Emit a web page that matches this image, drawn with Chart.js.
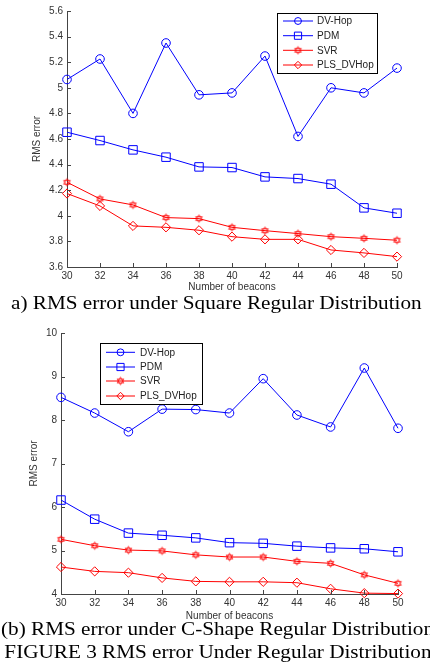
<!DOCTYPE html>
<html>
<head>
<meta charset="utf-8">
<script src="https://cdn.jsdelivr.net/npm/chart.js@4.4.0/dist/chart.umd.min.js"></script>
<style>
  body { margin: 0; background: #fff; width: 430px; height: 671px; overflow: hidden; position: relative; }
  canvas { position: absolute; left: 0; }
  .cap { position: absolute; font-family: "Liberation Serif", serif; font-size: 19px; line-height: 23px; white-space: nowrap; color: #000; transform: scaleX(1.115); transform-origin: 0 0; }
</style>
</head>
<body>
<canvas id="chartA" width="430" height="295" style="top:0"></canvas>
<div class="cap" style="top:291px;left:11px">a) RMS error under Square Regular Distribution</div>
<canvas id="chartB" width="430" height="315" style="top:310px"></canvas>
<div class="cap" style="top:617px;left:1px">(b) RMS error under C-Shape Regular Distribution<br><span style="margin-left:3px">FIGURE 3 RMS error Under Regular Distribution</span></div>

<script>
const beacons = [30, 32, 34, 36, 38, 40, 42, 44, 46, 48, 50];
const seriesNames = ['DV-Hop', 'PDM', 'SVR', 'PLS_DVHop'];

// (a) square regular distribution
const squareDvHop = [5.065, 5.225, 4.80, 5.35, 4.945, 4.96, 5.248, 4.62, 5.0, 4.96, 5.154];
const squarePdm   = [4.653, 4.588, 4.515, 4.458, 4.382, 4.377, 4.304, 4.291, 4.247, 4.062, 4.02];
const squareSvr   = [4.262, 4.132, 4.085, 3.986, 3.978, 3.91, 3.884, 3.861, 3.837, 3.824, 3.809];
const squarePls   = [4.174, 4.077, 3.921, 3.91, 3.887, 3.837, 3.816, 3.816, 3.733, 3.71, 3.681];
const squareTicks = [3.6, 3.8, 4, 4.2, 4.4, 4.6, 4.8, 5, 5.2, 5.4, 5.6];

// (b) C-shape regular distribution
const cshapeDvHop = [8.52, 8.16, 7.73, 8.25, 8.24, 8.16, 8.95, 8.115, 7.84, 9.195, 7.81];
const cshapePdm   = [6.16, 5.72, 5.40, 5.35, 5.29, 5.18, 5.165, 5.10, 5.06, 5.04, 4.97];
const cshapeSvr   = [5.257, 5.11, 5.01, 4.99, 4.90, 4.85, 4.85, 4.75, 4.705, 4.44, 4.245];
const cshapePls   = [4.62, 4.52, 4.49, 4.37, 4.29, 4.28, 4.28, 4.26, 4.12, 4.02, 4.01];
const cshapeTicks = [4, 5, 6, 7, 8, 9, 10];

Chart.defaults.font.family = "'Liberation Sans', Arial, sans-serif";
Chart.defaults.font.size = 10;
Chart.defaults.color = '#333';

// MATLAB style hexagram marker for SVR
function hexagram(r) {
  const c = document.createElement('canvas');
  const s = Math.ceil(r * 2 + 3);
  c.width = s; c.height = s;
  const g = c.getContext('2d');
  g.strokeStyle = '#ff0000';
  g.lineWidth = 0.8;
  for (let k = 0; k < 2; k++) {
    g.beginPath();
    for (let i = 0; i < 3; i++) {
      const a = -Math.PI / 2 + k * Math.PI / 3 + i * 2 * Math.PI / 3;
      const px = s / 2 + r * Math.cos(a), py = s / 2 + r * Math.sin(a);
      i ? g.lineTo(px, py) : g.moveTo(px, py);
    }
    g.closePath();
    g.stroke();
  }
  return c;
}
const starMark = hexagram(3.8);

const looks = [
  { color: '#0000ff', pointStyle: 'circle', pointRadius: 4.3 },
  { color: '#0000ff', pointStyle: 'rect', pointRadius: 6 },
  { color: '#ff0000', pointStyle: starMark, pointRadius: 4 },
  { color: '#ff0000', pointStyle: 'rectRot', pointRadius: 4.6 }
];

// ticks drawn inside the axes, like MATLAB
const innerTicks = {
  id: 'innerTicks',
  afterDatasetsDraw(chart) {
    const { ctx, chartArea: a, scales: { x, y } } = chart;
    ctx.save();
    ctx.strokeStyle = '#444';
    ctx.lineWidth = 1;
    ctx.beginPath();
    x.ticks.forEach((t, i) => {
      const px = Math.round(x.getPixelForTick(i)) + 0.5;
      ctx.moveTo(px, a.bottom); ctx.lineTo(px, a.bottom - 4);
    });
    y.ticks.forEach(t => {
      const py = Math.round(y.getPixelForValue(t.value)) + 0.5;
      ctx.moveTo(a.left, py); ctx.lineTo(a.left + 4, py);
    });
    ctx.stroke();
    ctx.restore();
  }
};

// boxed legend sitting inside the plot
const boxLegend = {
  id: 'boxLegend',
  afterDraw(chart, args, opts) {
    const { ctx } = chart;
    const { left, top, width, height, rows, lineFrom, lineTo, textX } = opts;
    ctx.save();
    ctx.fillStyle = '#fff';
    ctx.fillRect(left, top, width, height);
    ctx.strokeStyle = '#000';
    ctx.lineWidth = 1;
    ctx.strokeRect(left + 0.5, top + 0.5, width, height);
    chart.data.datasets.forEach((ds, i) => {
      const yy = rows[i];
      ctx.strokeStyle = ds.borderColor;
      ctx.lineWidth = 1;
      ctx.beginPath();
      ctx.moveTo(lineFrom, yy); ctx.lineTo(lineTo, yy);
      ctx.stroke();
      ctx.fillStyle = 'transparent';
      Chart.helpers.drawPoint(ctx, {
        pointStyle: ds.pointStyle,
        radius: ds.pointStyle === 'rect' ? ds.pointRadius * 0.85 : ds.pointRadius * 0.8,
        borderWidth: 1,
        rotation: 0
      }, (lineFrom + lineTo) / 2, yy);
      ctx.fillStyle = '#222';
      ctx.font = "10px 'Liberation Sans', Arial, sans-serif";
      ctx.textBaseline = 'middle';
      ctx.fillText(ds.label, textX, yy + 0.5);
    });
    ctx.restore();
  }
};

function makeChart(id, series, tickValues, box) {
  return new Chart(document.getElementById(id), {
    type: 'line',
    data: {
      labels: beacons,
      datasets: series.map((values, i) => ({
        label: seriesNames[i],
        data: values,
        borderColor: looks[i].color,
        borderWidth: 1,
        pointStyle: looks[i].pointStyle,
        pointRadius: looks[i].pointRadius,
        pointBorderColor: looks[i].color,
        pointBackgroundColor: 'transparent',
        pointBorderWidth: 1,
        tension: 0,
        clip: false
      }))
    },
    options: {
      responsive: false,
      animation: false,
      layout: { padding: box.padding },
      plugins: {
        legend: { display: false },
        tooltip: { enabled: false },
        boxLegend: box.legend
      },
      scales: {
        x: {
          grid: { drawOnChartArea: false, drawTicks: false },
          border: { color: '#444' },
          ticks: { padding: box.xTickPad, maxRotation: 0, color: '#333' },
          title: { display: true, text: 'Number of beacons', color: '#333', padding: { top: 0, bottom: box.xTitlePad } },
          afterFit: s => { s.height = box.xHeight; }
        },
        y: {
          min: tickValues[0],
          max: tickValues[tickValues.length - 1],
          grid: { drawOnChartArea: false, drawTicks: false },
          border: { color: '#444' },
          ticks: { padding: 4, color: '#333', callback: v => String(+v.toFixed(2)) },
          afterBuildTicks: s => { s.ticks = tickValues.map(v => ({ value: v })); },
          title: { display: true, text: 'RMS error', color: '#333', padding: 0 },
          afterFit: s => { s.width = box.yWidth; }
        }
      }
    },
    plugins: [innerTicks, boxLegend]
  });
}

makeChart('chartA', [squareDvHop, squarePdm, squareSvr, squarePls], squareTicks, {
  padding: { left: 31, right: 33, top: 11, bottom: 0 },
  yWidth: 36, xHeight: 28, xTickPad: 3, xTitlePad: 2,
  legend: { left: 277, top: 13, width: 100, height: 60, rows: [21, 35.7, 50.3, 65], lineFrom: 283, lineTo: 313, textX: 317 }
});

makeChart('chartB', [cshapeDvHop, cshapePdm, cshapeSvr, cshapePls], cshapeTicks, {
  padding: { left: 28, right: 32, top: 23, bottom: 0 },
  yWidth: 33, xHeight: 31, xTickPad: 3, xTitlePad: 3,
  legend: { left: 100, top: 33, width: 102, height: 61, rows: [42.3, 57, 71, 86], lineFrom: 106, lineTo: 135, textX: 140 }
});
</script>
</body>
</html>
